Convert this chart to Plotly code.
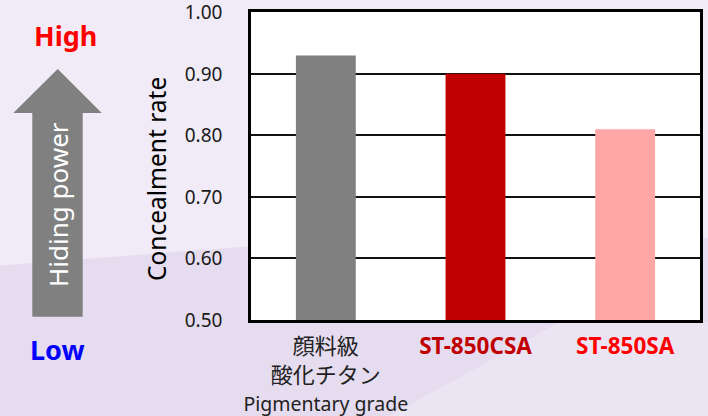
import plotly.graph_objects as go

# ---- data ----
categories = ["顔料級酸化チタン", "ST-850CSA", "ST-850SA"]
concealment_rate = [0.93, 0.90, 0.81]
tick_labels = [
    '顔料級<br>酸化チタン<br><span style="font-size:19.5px">Pigmentary grade</span>',
    '<b><span style="color:#c00000;font-size:22.5px">ST-850CSA</span></b>',
    '<b><span style="color:#ff0000;font-size:22.5px">ST-850SA</span></b>',
]
bar_colors = ["#808080", "#c00000", "#ffa6a6"]
y_ticks = [0.5, 0.6, 0.7, 0.8, 0.9, 1.0]
y_tick_text = ["0.50", "0.60", "0.70", "0.80", "0.90", "1.00"]

W, H = 708, 416
ML, MR, MT, MB = 251, 8, 12, 96
PW, PH = W - ML - MR, H - MT - MB


def px(x):
    return (x - ML) / PW


def py(y):
    return (H - MB - y) / PH


font_family = "Noto Sans, Noto Sans CJK JP, sans-serif"

fig = go.Figure()
fig.add_trace(go.Bar(
    x=categories, y=concealment_rate,
    marker=dict(color=bar_colors, line=dict(width=0)),
    width=0.4, showlegend=False, hoverinfo="skip",
))

shapes = []
# lower darker background band
shapes.append(dict(
    type="path", xref="paper", yref="paper", layer="below",
    path=f"M {px(-5)},{py(266)} L {px(240)},{py(247)} L {px(713)},{py(238)} "
         f"L {px(713)},{py(421)} L {px(-5)},{py(421)} Z",
    fillcolor="#e5dcef", line=dict(width=0),
))
# lighter diagonal streak near the bottom
shapes.append(dict(
    type="path", xref="paper", yref="paper", layer="below",
    path=f"M {px(380)},{py(421)} L {px(560)},{py(322)} L {px(713)},{py(322)} "
         f"L {px(713)},{py(421)} Z",
    fillcolor="#ebe4f3", line=dict(width=0),
))
# white plot area over background
shapes.append(dict(
    type="rect", xref="paper", yref="paper", layer="below",
    x0=0, x1=1, y0=0, y1=1, fillcolor="white", line=dict(width=0),
))
# gray arrow
shapes.append(dict(
    type="path", xref="paper", yref="paper", layer="below",
    path=(f"M {px(32.3)},{py(316.7)} L {px(32.3)},{py(113)} L {px(13.3)},{py(113)} "
          f"L {px(57.7)},{py(69)} L {px(101.7)},{py(113)} L {px(82.7)},{py(113)} "
          f"L {px(82.7)},{py(316.7)} Z"),
    fillcolor="#808080", line=dict(width=0),
))

annotations = [
    dict(text="Hiding power", x=px(58), y=py(205), xref="paper", yref="paper",
         textangle=-90, showarrow=False, xanchor="center", yanchor="middle",
         font=dict(family=font_family, size=26, color="white")),
    dict(text="<b>High</b>", x=px(65.7), y=py(35.5), xref="paper", yref="paper",
         showarrow=False, xanchor="center", yanchor="middle",
         font=dict(family=font_family, size=27, color="#ff0000")),
    dict(text="<b>Low</b>", x=px(57), y=py(349), xref="paper", yref="paper",
         showarrow=False, xanchor="center", yanchor="middle",
         font=dict(family=font_family, size=27, color="#0000ff")),
    dict(text="Concealment rate", x=px(157), y=py(179), xref="paper", yref="paper",
         textangle=-90, showarrow=False, xanchor="center", yanchor="middle",
         font=dict(family=font_family, size=24.5, color="black")),
]

fig.update_layout(
    width=W, height=H,
    margin=dict(l=ML, r=MR, t=MT, b=MB),
    paper_bgcolor="#f0ebf7", plot_bgcolor="white",
    font=dict(family=font_family, color="#1a1a1a"),
    shapes=shapes, annotations=annotations,
    bargap=0.6,
    xaxis=dict(
        tickvals=categories, ticktext=tick_labels,
        tickfont=dict(size=22, color="#222"),
        showline=True, mirror=True, linecolor="black", linewidth=2.5,
        ticks="", ticklabelstandoff=5, showgrid=False, automargin=False,
        ticklabeloverflow="allow",
    ),
    yaxis=dict(
        range=[0.5, 1.0005], tickvals=y_ticks, ticktext=y_tick_text,
        tickfont=dict(size=19, color="#1a1a1a"),
        showline=True, mirror=True, linecolor="black", linewidth=2.5,
        showgrid=True, gridcolor="#111", gridwidth=2,
        ticks="", ticklabelstandoff=22, zeroline=False, automargin=False,
        ticklabeloverflow="allow",
    ),
)

fig.write_html(
    "out.html",
    config={"displayModeBar": False},
    post_script="document.body.style.margin='0';document.body.style.overflow='hidden';",
)
